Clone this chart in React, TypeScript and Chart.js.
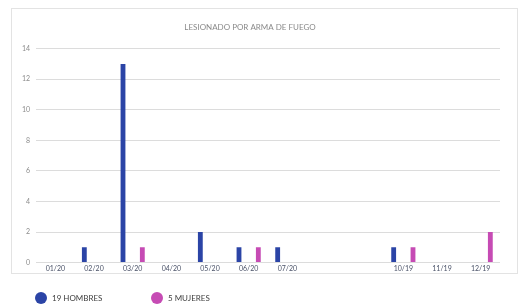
import React, { useEffect, useRef } from "react";
import { Chart, registerables } from "chart.js";

Chart.register(...registerables);

const TITLE = "LESIONADO POR ARMA DE FUEGO";
const MONTHS = ["01/20", "02/20", "03/20", "04/20", "05/20", "06/20", "07/20", "", "", "10/19", "11/19", "12/19"];
const HOMBRES = [0, 1, 13, 0, 2, 1, 1, 0, 0, 1, 0, 0];
const MUJERES = [0, 0, 1, 0, 0, 1, 0, 0, 0, 1, 0, 2];
const SERIES_NAMES = ["19 HOMBRES", "5 MUJERES"];
const Y_TICKS = [0, 2, 4, 6, 8, 10, 12, 14];

const BLUE = "#2b44a6";
const PINK = "#c64bb4";
const FONT = "Lato, 'Open Sans', sans-serif";

const framePlugin = {
  id: "frame",
  beforeDraw(chart: any) {
    const { ctx } = chart;
    ctx.save();
    ctx.fillStyle = "#ffffff";
    ctx.fillRect(0, 0, chart.width, chart.height);
    ctx.strokeStyle = "#e3e3e3";
    ctx.lineWidth = 1;
    ctx.strokeRect(11.5, 8.5, 506, 265);
    ctx.restore();
  },
};

const legendPlugin = {
  id: "customLegend",
  afterDraw(chart: any) {
    const { ctx } = chart;
    const xs = [41, 157];
    const y = 298;
    ctx.save();
    chart.data.datasets.forEach((ds: any, i: number) => {
      ctx.beginPath();
      ctx.fillStyle = ds.backgroundColor;
      ctx.arc(xs[i], y, 6, 0, Math.PI * 2);
      ctx.fill();
      ctx.fillStyle = "#404040";
      ctx.font = `8px ${FONT}`;
      ctx.textBaseline = "middle";
      ctx.textAlign = "left";
      ctx.fillText(ds.label, xs[i] + 11, y);
    });
    ctx.restore();
  },
};

export default function App() {
  const ref = useRef<HTMLCanvasElement>(null);
  useEffect(() => {
    if (!ref.current) return;
    const chart = new Chart(ref.current, {
      type: "bar",
      data: {
        labels: MONTHS,
        datasets: [
          { label: SERIES_NAMES[0], data: HOMBRES, backgroundColor: BLUE },
          { label: SERIES_NAMES[1], data: MUJERES, backgroundColor: PINK },
        ],
      },
      options: {
        animation: false,
        responsive: false,
        maintainAspectRatio: false,
        layout: { padding: { left: 0, right: 29, top: 0, bottom: 31 } },
        datasets: { bar: { categoryPercentage: 1.0, barPercentage: 0.25 } },
        plugins: {
          legend: { display: false },
          tooltip: { enabled: false },
          title: {
            display: true,
            text: TITLE,
            color: "#8a8a8a",
            font: { family: FONT, size: 8, weight: "normal" },
            padding: { top: 23, bottom: 16 },
          },
        },
        scales: {
          x: {
            grid: { display: false, drawTicks: false },
            border: { display: false },
            ticks: {
              color: "#4a5268",
              font: { family: FONT, size: 7 },
              padding: 2,
              maxRotation: 0,
              autoSkip: false,
            },
          },
          y: {
            min: 0,
            max: 14,
            afterBuildTicks(scale: any) {
              scale.ticks = Y_TICKS.map((v) => ({ value: v }));
            },
            grid: { color: "#dcdcdc", lineWidth: 1, drawTicks: false },
            border: { display: false },
            ticks: {
              color: "#8c8c8c",
              font: { family: FONT, size: 7 },
              padding: 6,
            },
            afterFit(scale: any) {
              scale.width = 36;
            },
          },
        },
      },
      plugins: [framePlugin, legendPlugin],
    } as any);
    return () => chart.destroy();
  }, []);
  return (
    <div style={{ position: "fixed", left: 0, top: 0, width: 529, height: 306, background: "#fff" }}>
      <canvas ref={ref} width={529} height={306} style={{ display: "block" }} />
    </div>
  );
}
